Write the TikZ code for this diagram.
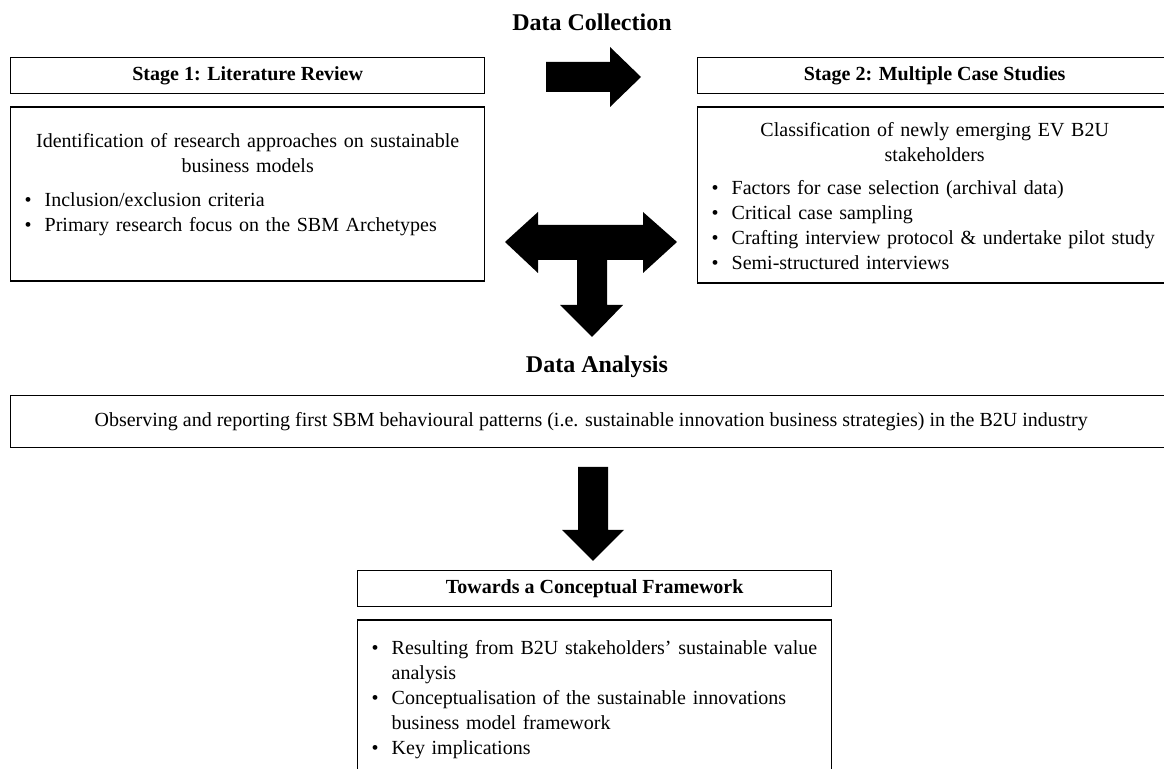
\documentclass[tikz,border=0pt]{standalone}
\usepackage{fontspec}
\setmainfont{Liberation Serif}
\usetikzlibrary{positioning}

\newcommand{\bitem}[1]{\par\noindent\hangindent=10pt\hangafter=1\makebox[10pt][l]{\textbullet}#1}

\begin{document}
\begin{tikzpicture}[
  x=0.5pt, y=-0.5pt,
  font=\fontsize{10}{12.5}\selectfont,
  hdr/.style={rectangle, draw, line width=0.7pt, minimum width=237pt,
              minimum height=18pt, inner sep=0pt,
              font=\fontsize{10}{12.5}\selectfont\bfseries},
  frame/.style={rectangle, draw, line width=0.7pt, minimum width=237pt,
                inner sep=0pt},
  txt/.style={text width=223pt, inner sep=0pt},
  ttl/.style={inner sep=0pt, font=\fontsize{12}{14}\selectfont\bfseries},
  blk/.style={fill=black}
]
\useasboundingbox (0,0) rectangle (1164,769);

\node[ttl] (DC) at (592,22) {Data Collection};

%% Stage 1
\node[hdr, anchor=north west] (S1) at (10,57) {Stage 1: Literature Review};
\node[frame, minimum height=87pt, below=6pt of S1] (S1d) {};
\node[txt, below=13.3pt of S1d.north] (S1t)
  {\raggedright{\centering Identification of research approaches on sustainable\\
   business models\par}\vspace{4.5pt}
   \bitem{Inclusion/exclusion criteria}
   \bitem{Primary research focus on the SBM Archetypes}};

%% Stage 2
\node[hdr, anchor=north west] (S2) at (697,57) {Stage 2: Multiple Case Studies};
\node[frame, minimum height=88pt, below=6pt of S2] (S2d) {};
\node[txt, below=7.8pt of S2d.north] (S2t)
  {\raggedright{\centering Classification of newly emerging EV B2U\\
   stakeholders\par}\vspace{4pt}
   \bitem{Factors for case selection (archival data)}
   \bitem{Critical case sampling}
   \bitem{Crafting interview protocol \& undertake pilot study}
   \bitem{Semi-structured interviews}};

%% block arrows
\fill[blk] (546,62) -- (610,62) -- (610,47) -- (641,77) -- (610,107)
  -- (610,92) -- (546,92) -- cycle;
\fill[blk] (505,242) -- (538,212) -- (538,225) -- (643,225) -- (643,212)
  -- (677,242) -- (643,273) -- (643,260) -- (607,260) -- (607,305)
  -- (623,305) -- (592,337) -- (560,305) -- (577,305) -- (577,260)
  -- (538,260) -- (538,273) -- cycle;

\node[ttl] (DA) at (597,367) {Data Analysis};
\node[frame, minimum width=580.5pt, minimum height=26pt, anchor=north west]
  (Obs) at (10,395)
  {Observing and reporting first SBM behavioural patterns (i.e. sustainable innovation business strategies) in the B2U industry};

\fill[blk] (578,467) -- (608,467) -- (608,530) -- (624,530) -- (593,561)
  -- (562,530) -- (578,530) -- cycle;

%% Framework
\node[hdr, anchor=north west] (TF) at (357,570) {Towards a Conceptual Framework};
\node[frame, minimum height=90pt, below=6pt of TF] (TFd) {};
\node[txt, below=4.8pt of TFd.north] (TFt)
  {\raggedright
   \bitem{Resulting from B2U stakeholders' sustainable value analysis}
   \bitem{Conceptualisation of the sustainable innovations business model framework}
   \bitem{Key implications}};

\end{tikzpicture}
\end{document}
